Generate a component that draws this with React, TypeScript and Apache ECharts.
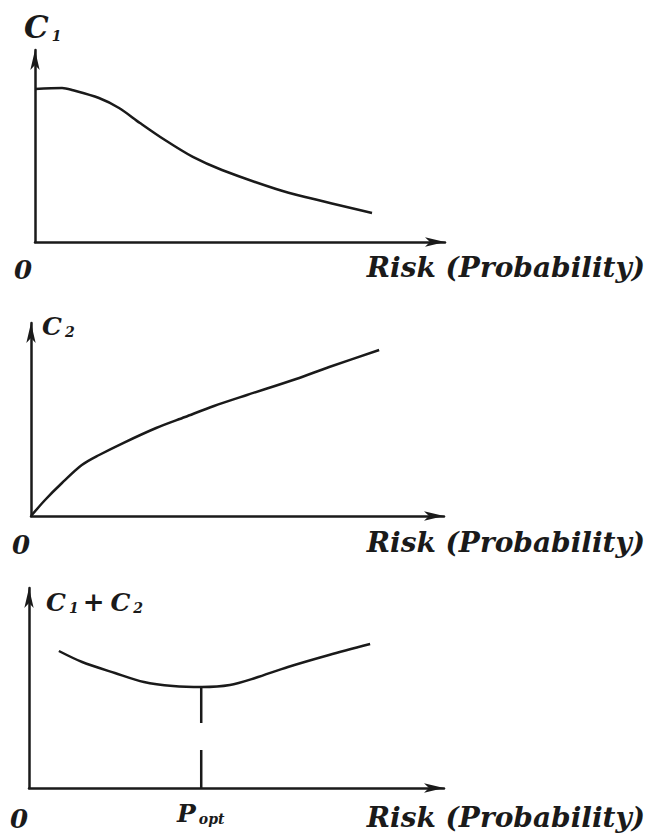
import React, { useEffect, useRef } from "react";
import * as echarts from "echarts";

// Panel 1: C1 vs risk (decreasing)
const riskC1 = [0, 0.66, 0.9, 1.56, 2.05, 2.56, 3.17, 3.85, 4.56, 5.88, 6.59, 8.22];
const costC1 = [7.97, 8.02, 7.92, 7.5, 6.98, 6.2, 5.31, 4.43, 3.75, 2.76, 2.34, 1.51];

// Panel 2: C2 vs risk (increasing)
const riskC2 = [0, 0.34, 0.75, 1.23, 1.65, 2.23, 3.03, 3.73, 4.43, 5.23, 6.42, 7.22, 8.43];
const costC2 = [0, 0.83, 1.71, 2.64, 3.16, 3.78, 4.56, 5.13, 5.7, 6.27, 7.1, 7.72, 8.6];

// Panel 3: C1 + C2 vs risk (U-shaped)
const riskSum = [0.72, 1.28, 2.07, 2.77, 3.47, 4.17, 4.84, 5.45, 6.24, 7.23, 8.22];
const costSum = [6.85, 6.3, 5.75, 5.3, 5.1, 5.05, 5.15, 5.5, 6.05, 6.65, 7.2];

// Optimum marker
const pOpt = 4.15;
const pOptCost = 5.05;
const dropSegments = [
  [pOptCost, 3.25],
  [1.9, 0],
];

const xLabel = "Risk (Probability)";

const INK = "#1a1a1a";
const FONT = "'DejaVu Serif', serif";

const zip = (a: number[], b: number[]) => a.map((v, i) => [v, b[i]]);

export default function App() {
  const ref = useRef<HTMLDivElement>(null);

  useEffect(() => {
    if (!ref.current) return;
    const chart = echarts.init(ref.current, undefined, { renderer: "svg" });

    const grids = [
      { left: 35, top: 50, width: 410, height: 192 },
      { left: 31, top: 323, width: 413, height: 193 },
      { left: 29, top: 588, width: 415, height: 200 },
    ];

    const axisLine = {
      show: true,
      onZero: false,
      symbol: ["none", "arrow"],
      symbolSize: [7, 20],
      lineStyle: { color: INK, width: 2.5 },
    };
    const mkAxis = (i: number) => ({
      type: "value",
      gridIndex: i,
      min: 0,
      max: 10,
      axisLine,
      axisTick: { show: false },
      axisLabel: { show: false },
      splitLine: { show: false },
    });

    const lineSeries = (i: number, data: number[][]) => ({
      type: "line",
      xAxisIndex: i,
      yAxisIndex: i,
      data,
      smooth: 0.3,
      symbol: "none",
      lineStyle: { color: INK, width: 2.5 },
      silent: true,
    });

    const textStyle = (size: number) => `italic bold ${size}px ${FONT}`;

    const bigText = (text: string, x: number, y: number, align: string, size = 28) => ({
      type: "text",
      x,
      y,
      style: {
        text,
        font: textStyle(size),
        fill: INK,
        textAlign: align,
        textVerticalAlign: "middle",
      },
    });

    const rich = {
      c: { font: textStyle(25), fill: INK },
      cb: { font: textStyle(31), fill: INK },
      s: { font: textStyle(14), fill: INK, verticalAlign: "bottom", padding: [10, 0, 0, 3] },
      p: { font: textStyle(26), fill: INK, padding: [0, 6, 0, 4] },
    };

    const richText = (text: string, x: number, y: number) => ({
      type: "text",
      x,
      y,
      style: {
        text,
        rich,
        fill: INK,
        textVerticalAlign: "middle",
      },
    });

    const option: any = {
      animation: false,
      backgroundColor: "#ffffff",
      grid: grids,
      xAxis: [mkAxis(0), mkAxis(1), mkAxis(2)],
      yAxis: [mkAxis(0), mkAxis(1), mkAxis(2)],
      series: [
        lineSeries(0, zip(riskC1, costC1)),
        lineSeries(1, zip(riskC2, costC2)),
        lineSeries(2, zip(riskSum, costSum)),
        ...dropSegments.map((seg) => ({
          type: "line",
          xAxisIndex: 2,
          yAxisIndex: 2,
          data: [
            [pOpt, seg[0]],
            [pOpt, seg[1]],
          ],
          symbol: "none",
          lineStyle: { color: INK, width: 2.5 },
          silent: true,
        })),
      ],
      graphic: [
        // y-axis titles
        richText("{cb|C}{s|1}", 24, 27),
        richText("{c|C}{s|2}", 42, 326),
        richText("{c|C}{s|1}{p|+}{c|C}{s|2}", 46, 602),
        // origins
        bigText("0", 23, 270, "center", 26),
        bigText("0", 21, 545, "center", 26),
        bigText("0", 19, 819, "center", 26),
        // x-axis titles
        bigText(xLabel, 645, 267, "right"),
        bigText(xLabel, 645, 542, "right"),
        bigText(xLabel, 645, 817, "right"),
        // P_opt
        richText("{c|P}{s|opt}", 177, 813),
      ],
    };

    chart.setOption(option);
    return () => chart.dispose();
  }, []);

  return (
    <div
      ref={ref}
      style={{ position: "fixed", left: 0, top: 0, width: 649, height: 833, background: "#fff" }}
    />
  );
}
